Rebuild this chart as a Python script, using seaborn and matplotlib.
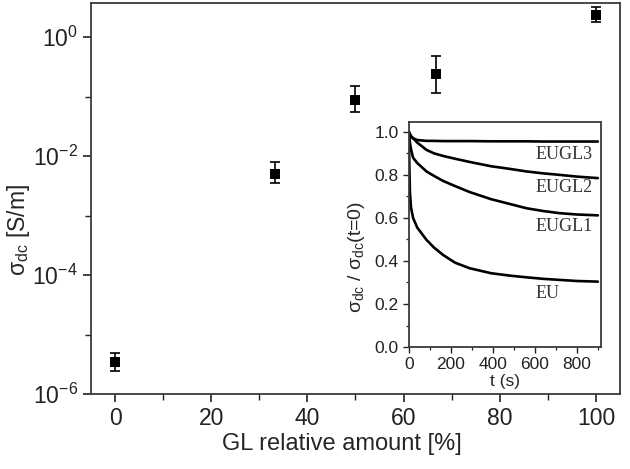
import numpy as np
import pandas as pd
import matplotlib
matplotlib.use("Agg")
import matplotlib.pyplot as plt
import seaborn as sns
from matplotlib.ticker import FixedLocator, MultipleLocator
from matplotlib.font_manager import FontProperties

# ---------------- data ----------------
gl_amount = [0, 33.3, 50, 66.7, 100]
sigma_dc = [3.5e-6, 5.1e-3, 0.089, 0.244, 2.37]
sigma_hi = [4.95e-6, 8.1e-3, 0.153, 0.49, 3.24]
sigma_lo = [2.47e-6, 3.5e-3, 0.055, 0.117, 1.81]

t_s = [0, 2, 5, 10, 20, 40, 84, 120, 163, 220, 290, 392, 480, 560, 640, 719, 800, 900]
eu = [1.0, 0.86, 0.72, 0.65, 0.60, 0.555, 0.498, 0.462, 0.428, 0.392, 0.366, 0.343,
      0.332, 0.324, 0.317, 0.312, 0.307, 0.304]
eugl1 = [1.0, 0.98, 0.95, 0.92, 0.88, 0.855, 0.816, 0.795, 0.772, 0.748, 0.72, 0.687,
         0.665, 0.645, 0.632, 0.622, 0.616, 0.612]
eugl2 = [1.0, 0.995, 0.99, 0.98, 0.97, 0.95, 0.916, 0.90, 0.888, 0.875, 0.86, 0.84,
         0.828, 0.816, 0.807, 0.80, 0.792, 0.785]
eugl3 = [1.0, 0.995, 0.99, 0.98, 0.97, 0.962, 0.958, 0.958, 0.957, 0.957, 0.957, 0.956,
         0.956, 0.956, 0.955, 0.955, 0.955, 0.955]
curve_names = ["EU", "EUGL1", "EUGL2", "EUGL3"]
label_y = [0.247, 0.558, 0.74, 0.893]

# ---------------- style ----------------
sns.set_style("ticks")
plt.rcParams['font.family'] = ['Liberation Sans', 'DejaVu Sans']
plt.rcParams['axes.edgecolor'] = '#3a3a3a'
plt.rcParams['axes.linewidth'] = 1.3
plt.rcParams['xtick.color'] = '#222222'
plt.rcParams['ytick.color'] = '#222222'

SANS = 'Liberation Sans'
serif_fp = FontProperties(family='Liberation Serif', size=13)

fig = plt.figure(figsize=(6.3, 4.69), dpi=100)
ax = fig.add_axes([0.1444, 0.160, 0.8396, 0.834])

# --- main plot: sigma_dc vs GL amount ---
main_df = pd.DataFrame({"gl": gl_amount, "sigma": sigma_dc})
err = np.array([np.array(sigma_dc) - np.array(sigma_lo),
                np.array(sigma_hi) - np.array(sigma_dc)])
ax.errorbar(gl_amount, sigma_dc, yerr=err, fmt='none', ecolor='black',
            elinewidth=1.2, capsize=3.6, capthick=1.2, zorder=2)
sns.scatterplot(data=main_df, x="gl", y="sigma", marker='s', color='black',
                s=60, edgecolor='black', linewidth=0, ax=ax, zorder=3)

ax.set_yscale('log')
ax.set_xlim(-5, 105)
ax.set_ylim(1e-6, 3.8)
ax.yaxis.set_major_locator(FixedLocator([1e-6, 1e-4, 1e-2, 1e0]))
ax.yaxis.set_minor_locator(FixedLocator([1e-5, 1e-3, 1e-1]))
ax.xaxis.set_major_locator(MultipleLocator(20))
ax.xaxis.set_minor_locator(MultipleLocator(10))
ax.tick_params(which='major', direction='out', length=6, width=1.2, labelsize=16.5,
               labelfontfamily=SANS)
ax.tick_params(which='minor', direction='out', length=4, width=1.0)
ax.tick_params(axis='y', which='minor', labelleft=False)
ax.set_xlabel("GL relative amount [%]", fontsize=17, fontfamily=SANS)
ax.set_ylabel("σ$_{\\mathdefault{dc}}$ [S/m]", fontsize=16.5, fontfamily=SANS)
ax.xaxis.set_label_coords(0.474, -0.10)
ax.yaxis.set_label_coords(-0.112, 0.42)

# --- inset: normalised conductivity vs time ---
ins = fig.add_axes([0.649, 0.260, 0.305, 0.480])
long_df = pd.DataFrame({
    "t": t_s * 4,
    "v": eu + eugl1 + eugl2 + eugl3,
    "curve": sum([[n] * len(t_s) for n in curve_names], []),
})
sns.lineplot(data=long_df, x="t", y="v", hue="curve",
             palette=["black"] * 4, legend=False, linewidth=1.9, ax=ins)
for name, yl in zip(curve_names, label_y):
    ins.text(605, yl, name, fontproperties=serif_fp,
             va='center', ha='left', color='#333333')

ins.set_xlim(0, 915)
ins.set_ylim(0, 1.046)
ins.xaxis.set_major_locator(MultipleLocator(200))
ins.xaxis.set_minor_locator(MultipleLocator(100))
ins.yaxis.set_major_locator(MultipleLocator(0.2))
ins.yaxis.set_minor_locator(MultipleLocator(0.1))
ins.tick_params(which='major', direction='out', length=4, width=1.0, labelsize=12.5,
                labelfontfamily=SANS)
ins.tick_params(which='minor', direction='out', length=2.5, width=0.9)
ins.yaxis.set_major_formatter(plt.FormatStrFormatter('%.1f'))
ins.set_xlabel("t (s)", fontsize=12.5, labelpad=1, fontfamily=SANS)
ins.set_ylabel("σ$_{\\mathdefault{dc}}$ / σ$_{\\mathdefault{dc}}$(t=0)", fontsize=14,
               fontfamily=SANS)
ins.yaxis.set_label_coords(-0.22, 0.40)

plt.savefig("out.png", dpi=100)
